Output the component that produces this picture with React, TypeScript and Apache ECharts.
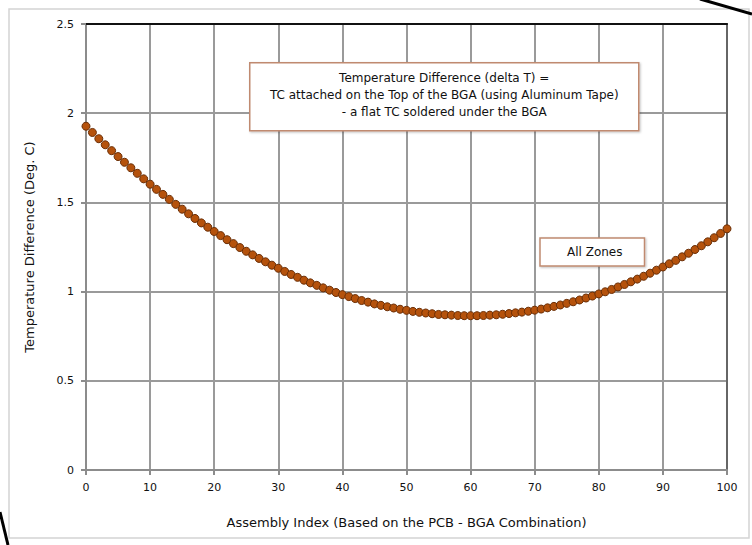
import React, { useEffect, useRef } from "react";
import * as echarts from "echarts";

const xIndex: number[] = Array.from({ length: 101 }, (_, i) => i);
const deltaT: number[] = [
  1.927, 1.892, 1.857, 1.823, 1.79, 1.757, 1.725, 1.694, 1.663, 1.632,
  1.602, 1.573, 1.545, 1.517, 1.489, 1.462, 1.436, 1.41, 1.385, 1.361,
  1.337, 1.314, 1.291, 1.269, 1.247, 1.226, 1.206, 1.186, 1.167, 1.148,
  1.131, 1.113, 1.096, 1.08, 1.064, 1.049, 1.035, 1.021, 1.008, 0.995,
  0.983, 0.972, 0.961, 0.95, 0.941, 0.931, 0.923, 0.915, 0.908, 0.901,
  0.895, 0.889, 0.884, 0.88, 0.876, 0.872, 0.87, 0.868, 0.866, 0.865,
  0.865, 0.865, 0.866, 0.868, 0.87, 0.873, 0.877, 0.881, 0.885, 0.89,
  0.896, 0.902, 0.909, 0.917, 0.925, 0.934, 0.943, 0.953, 0.964, 0.975,
  0.987, 0.999, 1.012, 1.026, 1.04, 1.055, 1.07, 1.086, 1.103, 1.12,
  1.138, 1.156, 1.175, 1.195, 1.215, 1.236, 1.257, 1.279, 1.302, 1.326,
  1.352,
];
const yTicks: number[] = [0, 0.5, 1, 1.5, 2, 2.5];
const xTicks: number[] = [0, 10, 20, 30, 40, 50, 60, 70, 80, 90, 100];
const titleLines: string[] = [
  "Temperature Difference (delta T) =",
  "TC attached on the Top of the BGA (using Aluminum Tape)",
  "- a flat TC soldered under the BGA",
];
const seriesName = "All Zones";
const xName = "Assembly Index (Based on the PCB - BGA Combination)";
const yName = "Temperature Difference (Deg. C)";

const FONT = "'DejaVu Sans', 'Liberation Sans', Arial, sans-serif";

export default function App() {
  const ref = useRef<HTMLDivElement>(null);
  useEffect(() => {
    if (!ref.current) return;
    const chart = echarts.init(ref.current, null, { renderer: "svg" });
    chart.setOption({
      animation: false,
      backgroundColor: "#ffffff",
      textStyle: { fontFamily: FONT },
      grid: { left: 86, right: 25, top: 24, bottom: 75, containLabel: false },
      xAxis: [
        {
          type: "value",
          min: xTicks[0],
          max: xTicks[xTicks.length - 1],
          interval: 10,
          name: xName,
          nameLocation: "middle",
          nameGap: 46,
          nameTextStyle: { fontSize: 13, color: "#111", fontFamily: FONT },
          axisLine: { show: true, lineStyle: { color: "#8c8c8c", width: 2 } },
          axisTick: { show: true, length: 5, lineStyle: { color: "#8c8c8c", width: 2 } },
          axisLabel: { fontSize: 11, color: "#111", margin: 12, fontFamily: FONT },
          splitLine: { show: true, lineStyle: { color: "#9a9a9a", width: 2 } },
        },
        {
          type: "value",
          position: "top",
          min: 0,
          max: 100,
          axisLine: { show: true, onZero: false, lineStyle: { color: "#111", width: 2 } },
          axisTick: { show: false },
          axisLabel: { show: false },
          splitLine: { show: false },
        },
      ],
      yAxis: [
        {
          type: "value",
          min: yTicks[0],
          max: yTicks[yTicks.length - 1],
          interval: 0.5,
          name: yName,
          nameLocation: "middle",
          nameGap: 50,
          nameTextStyle: { fontSize: 13, color: "#111", fontFamily: FONT },
          axisLine: { show: true, lineStyle: { color: "#8c8c8c", width: 2 } },
          axisTick: { show: true, length: 5, lineStyle: { color: "#8c8c8c", width: 2 } },
          axisLabel: { fontSize: 11, color: "#111", margin: 12, fontFamily: FONT },
          splitLine: { show: true, lineStyle: { color: "#9a9a9a", width: 2 } },
        },
        {
          type: "value",
          position: "right",
          min: 0,
          max: 2.5,
          axisLine: { show: true, onZero: false, lineStyle: { color: "#666", width: 2 } },
          axisTick: { show: false },
          axisLabel: { show: false },
          splitLine: { show: false },
        },
      ],
      legend: {
        data: [{ name: seriesName, icon: "none" }],
        left: 540,
        top: 238,
        itemWidth: 0,
        itemHeight: 0,
        itemGap: 0,
        padding: [8, 22, 8, 22],
        borderColor: "#c08a70",
        borderWidth: 1.5,
        backgroundColor: "#fff",
        shadowColor: "rgba(0,0,0,0.25)",
        shadowBlur: 2,
        shadowOffsetX: 1,
        shadowOffsetY: 1,
        textStyle: { fontSize: 12, color: "#111", fontFamily: FONT },
        selectedMode: false,
      },
      graphic: [
        {
          type: "group",
          left: 249,
          top: 62,
          z: 100,
          children: [
            {
              type: "rect",
              z: 100,
              shape: { x: 0, y: 0, width: 389, height: 68 },
              style: {
                fill: "#fff",
                stroke: "#c08a70",
                lineWidth: 1.5,
                shadowColor: "rgba(0,0,0,0.25)",
                shadowBlur: 2,
                shadowOffsetX: 1,
                shadowOffsetY: 1,
              },
            },
            {
              type: "text",
              z: 101,
              x: 194.5,
              y: 7,
              style: {
                text: titleLines.join("\n"),
                textAlign: "center",
                fontSize: 12,
                lineHeight: 17,
                fill: "#111",
                fontFamily: FONT,
              },
            },
          ],
        },
        {
          type: "rect",
          shape: { x: 9, y: 9, width: 740, height: 529 },
          style: { fill: "none", stroke: "#d4d4d4", lineWidth: 1.5 },
          z: -1,
        },
        {
          type: "line",
          z: 100,
          shape: { x1: 700, y1: -1, x2: 752, y2: 14 },
          style: { stroke: "#000", lineWidth: 3 },
        },
        {
          type: "line",
          z: 100,
          shape: { x1: 0, y1: 512, x2: 8, y2: 545 },
          style: { stroke: "#000", lineWidth: 3 },
        },
      ],
      series: [
        {
          name: seriesName,
          type: "scatter",
          data: xIndex.map((x, i) => [x, deltaT[i]]),
          symbol: "circle",
          symbolSize: 8,
          itemStyle: { color: "#b5520c", borderColor: "#6a2e06", borderWidth: 1, opacity: 1 },
        },
      ],
    });
    return () => chart.dispose();
  }, []);
  return (
    <div
      ref={ref}
      style={{ position: "fixed", left: 0, top: 0, width: 752, height: 545 }}
    />
  );
}
